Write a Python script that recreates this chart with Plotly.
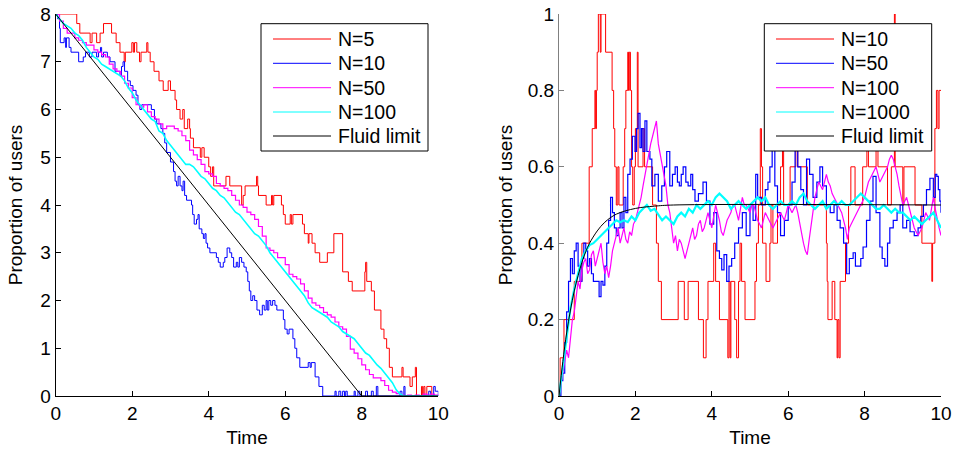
import plotly.graph_objects as go

# ---------------- Left panel data ----------------
left_names = ["N=5", "N=10", "N=50", "N=100", "Fluid limit"]

n5_t = [0, 0.55, 0.63, 0.9, 0.95, 1.07, 1.16, 1.25, 1.46, 1.58, 1.68, 1.79, 1.82, 1.99, 2.03, 2.06, 2.12, 2.19, 2.23, 2.38, 2.41, 2.47, 2.57,
        2.7, 2.81, 2.94, 3.0, 3.12, 3.16, 3.25, 3.32, 3.36, 3.45, 3.5, 3.52, 3.6, 3.78, 3.82, 3.88, 4.0, 4.05, 4.1, 4.13, 4.45,
        4.55, 4.86, 4.9, 4.95, 5.25, 5.28, 5.3, 5.5, 5.64, 5.67, 5.7, 5.9, 5.95, 6.0, 6.13, 6.16, 6.2, 6.45, 6.5, 6.6, 6.62,
        6.7, 6.78, 6.9, 7.1, 7.27, 7.5, 7.65, 7.75, 8.08, 8.1, 8.13, 8.25, 8.33, 8.5, 8.58, 8.65, 8.72, 8.8, 9.05, 9.08, 9.26,
        9.32, 9.4, 9.43, 9.56, 9.59, 9.62, 9.65, 9.7, 9.83, 10]
n5_y = [8, 7.8, 7.6, 7.4, 7.6, 7.4, 7.6, 7.8, 7.6, 7.4, 7.2, 7.0, 7.2, 7.4, 7.2, 7.4, 7.2, 7.0, 7.2, 7.4, 7.2, 7.0, 6.8,
        6.6, 6.4, 6.6, 6.4, 6.2, 6.0, 5.8, 6.0, 5.6, 5.8, 5.6, 5.4, 5.2, 5.0, 5.2, 5.0, 4.8, 4.6, 4.8, 4.4, 4.6,
        4.4, 4.0, 4.2, 4.4, 4.6, 4.4, 4.2, 4.0, 4.2, 4.0, 4.2, 4.0, 3.8, 3.6, 3.8, 3.6, 3.8, 3.6, 3.4, 3.2, 3.4,
        3.2, 3.0, 2.8, 3.0, 3.4, 2.6, 2.4, 2.2, 2.6, 2.8, 2.4, 2.2, 1.8, 1.4, 1.2, 1.0, 0.6, 0.4, 0.6, 0.4, 0.2,
        0.4, 0.6, 0.0, 0.2, 0.0, 0.2, 0.0, 0.2, 0.0, 0.0]

n10_t = [0, 0.05, 0.1, 0.12, 0.22, 0.26, 0.28, 0.35, 0.4, 0.6, 0.72, 0.78, 0.88, 0.95, 1.07, 1.12, 1.17, 1.2, 1.25, 1.35, 1.42,
         1.55, 1.68, 1.72, 1.76, 1.8, 1.88, 1.95, 2.02, 2.1, 2.15, 2.2, 2.25, 2.5, 2.58, 2.64, 2.75, 2.8, 2.85, 2.9, 3.0, 3.08,
         3.12, 3.16, 3.2, 3.25, 3.3, 3.33, 3.37, 3.42, 3.55, 3.58, 3.62, 3.68, 3.72, 3.75, 3.82, 3.86, 3.9, 3.93, 3.97, 4.03,
         4.2, 4.25, 4.3, 4.38, 4.42, 4.48, 4.55, 4.6, 4.65, 4.72, 4.76, 4.8, 4.86, 4.92, 4.98, 5.02, 5.06, 5.1, 5.15, 5.2, 5.26,
         5.33, 5.4, 5.45, 5.5, 5.53, 5.57, 5.62, 5.67, 5.73, 5.78, 5.95, 5.99, 6.05, 6.1, 6.2, 6.25, 6.3, 6.38, 6.6, 6.65, 6.68,
         6.78, 6.88, 6.98, 7.3, 7.33, 7.4, 7.45, 7.5, 7.55, 7.58, 7.62, 7.8, 7.83, 7.9, 7.95, 8.1, 8.15, 8.25, 8.3, 8.38, 8.42,
         9.0, 9.05, 9.1, 9.13, 9.75, 9.8, 9.88, 9.92, 10]
n10_y = [8, 7.9, 7.7, 7.4, 7.5, 7.3, 7.5, 7.3, 7.2, 7.0, 7.1, 7.2, 7.1, 7.2, 7.1, 7.2, 7.3, 7.1, 7.2, 7.1, 7.0,
         6.8, 6.7, 6.9, 7.0, 6.8, 6.6, 6.5, 6.4, 6.3, 6.1, 6.0, 6.1, 6.0, 5.8, 5.7, 5.6, 5.5, 5.3, 5.1, 4.9, 4.7,
         4.5, 4.4, 4.6, 4.4, 4.3, 4.5, 4.2, 4.1, 4.0, 3.8, 3.6, 3.7, 3.8, 3.5, 3.4, 3.3, 3.4, 3.2, 3.1, 3.0,
         2.9, 2.8, 2.7, 2.8, 2.9, 3.1, 3.0, 2.9, 2.7, 2.8, 2.7, 2.9, 2.8, 2.7, 2.6, 2.4, 2.2, 2.0, 2.1, 2.0, 1.8,
         1.7, 1.9, 1.8, 2.0, 1.8, 2.0, 1.9, 2.0, 1.9, 1.8, 1.6, 1.4, 1.3, 1.4, 1.2, 1.0, 0.8, 0.6, 0.7, 0.6, 0.7,
         0.4, 0.2, 0.0, 0.1, 0.0, 0.1, 0.0, 0.1, 0.0, 0.1, 0.0, 0.1, 0.0, 0.1, 0.0, 0.1, 0.0, 0.1, 0.0, 0.2, 0.0,
         0.1, 0.0, 0.2, 0.0, 0.1, 0.0, 0.2, 0.1, 0.0]

grid_t = [round(0.1 * i, 1) for i in range(101)]
fine_t = [round(0.05 * i, 2) for i in range(201)]
n50_y = [8.0, 7.85, 7.7, 7.6, 7.6, 7.5, 7.45, 7.4, 7.35, 7.35, 7.25, 7.2, 7.15, 7.1, 6.95, 6.85, 6.8, 6.7, 6.55, 6.45,
         6.25, 6.1, 6.05, 6.1, 5.95, 5.85, 5.8, 5.7, 5.6, 5.65, 5.65, 5.6, 5.55, 5.45, 5.35, 5.15, 5.05, 4.95, 4.85, 4.7,
         4.65, 4.6, 4.45, 4.4, 4.35, 4.3, 4.2, 4.1, 4.0, 3.95, 3.85, 3.8, 3.7, 3.55, 3.35, 3.1, 3.05, 3.0, 2.9, 2.9,
         2.75, 2.55, 2.5, 2.45, 2.35, 2.2, 2.05, 1.95, 1.9, 1.85, 1.75, 1.7, 1.65, 1.55, 1.45, 1.4, 1.25, 0.98, 0.9, 0.78,
         0.65, 0.55, 0.45, 0.38, 0.38, 0.32, 0.22, 0.12, 0.08, 0.05, 0.02, 0.0, 0.02, 0.0, 0.02, 0.0, 0.04, 0.02, 0.04, 0.02,
         0.0]
n100_y = [8.0, 7.9, 7.8, 7.75, 7.7, 7.6, 7.55, 7.45, 7.3, 7.2, 7.1, 7.05, 6.95, 6.9, 6.85, 6.8, 6.75, 6.7, 6.6, 6.45,
          6.35, 6.2, 6.1, 6.0, 5.9, 5.8, 5.75, 5.55, 5.5, 5.35, 5.25, 5.15, 5.05, 4.95, 4.85, 4.85, 4.8, 4.7, 4.6, 4.55,
          4.45, 4.35, 4.3, 4.2, 4.15, 4.05, 3.95, 3.85, 3.8, 3.7, 3.6, 3.5, 3.4, 3.35, 3.25, 3.15, 3.0, 2.9, 2.8, 2.7,
          2.6, 2.5, 2.4, 2.3, 2.2, 2.1, 1.95, 1.85, 1.8, 1.75, 1.7, 1.65, 1.55, 1.5, 1.45, 1.35, 1.3, 1.25, 1.2, 1.1,
          1.0, 0.9, 0.85, 0.75, 0.65, 0.58, 0.48, 0.4, 0.28, 0.13, 0.04, 0.0, 0.0, 0.0, 0.0, 0.0, 0.0, 0.0, 0.0, 0.0,
          0.0]
fluid_left_t = [0, 8, 10]
fluid_left_y = [8, 0, 0]

# ---------------- Right panel data ----------------
right_names = ["N=10", "N=50", "N=100", "N=1000", "Fluid limit"]

r10_t = [0, 0.03, 0.13, 0.4, 0.6, 0.79, 0.87, 0.94, 0.96, 0.98, 1.0, 1.03, 1.08, 1.1, 1.22, 1.39, 1.43, 1.46, 1.5, 1.54,
         1.57, 1.68, 1.72, 1.75, 1.8, 1.82, 1.84, 1.87, 1.9, 1.93, 1.97, 2.0, 2.05, 2.07, 2.2, 2.24, 2.45, 2.55, 2.6, 2.68,
         3.12, 3.28, 3.38, 3.65, 3.78, 3.85, 3.9, 4.05, 4.1, 4.2, 4.42, 4.45, 4.48, 4.5, 4.6, 4.65, 4.7, 4.74, 4.78, 4.87,
         5.13, 5.17, 5.22, 5.27, 5.3, 5.33, 5.42, 5.52, 5.55, 5.6, 5.72, 5.8, 5.85, 5.88, 6.05, 6.2, 6.25, 6.5, 7.0, 7.02,
         7.04, 7.15, 7.22, 7.28, 7.3, 7.33, 7.36, 7.5, 7.58, 7.64, 7.75, 7.95, 8.06, 8.1, 8.3, 8.35, 8.6, 8.7, 8.78, 8.8,
         9.0, 9.03, 9.32, 9.5, 9.76, 9.78, 9.84, 9.88, 9.92, 9.95, 10]
r10_y = [0, 0.1, 0.2, 0.3, 0.4, 0.6, 0.7, 0.8, 0.7, 0.8, 0.9, 1.0, 0.9, 1.0, 0.9, 0.8, 0.7, 0.6, 0.5, 0.6,
         0.5, 0.6, 0.7, 0.8, 0.9, 0.8, 0.9, 0.8, 0.6, 0.5, 0.6, 0.7, 0.9, 0.6, 0.7, 0.6, 0.5, 0.4, 0.3, 0.2,
         0.3, 0.2, 0.3, 0.2, 0.1, 0.2, 0.3, 0.4, 0.3, 0.2, 0.1, 0.3, 0.1, 0.3, 0.2, 0.1, 0.3, 0.4, 0.3, 0.2,
         0.3, 0.4, 0.5, 0.7, 0.6, 0.4, 0.3, 0.4, 0.5, 0.4, 0.5, 0.6, 0.7, 0.5, 0.6, 0.7, 0.6, 0.5, 0.4, 0.3,
         0.2, 0.3, 0.2, 0.1, 0.2, 0.1, 0.3, 0.4, 0.5, 0.6, 0.5, 0.6, 0.7, 0.6, 0.7, 0.6, 0.5, 0.6, 1.0, 0.6,
         0.5, 0.6, 0.5, 0.4, 0.3, 0.4, 0.7, 0.8, 0.7, 0.8, 0.8]

r50_t = [0, 0.05, 0.1, 0.15, 0.2, 0.25, 0.3, 0.35, 0.4, 0.45, 0.5, 0.55, 0.6, 0.65, 0.7, 0.75, 0.8, 0.85, 0.9, 1.0,
         1.05, 1.1, 1.15, 1.2, 1.25, 1.3, 1.35, 1.4, 1.45, 1.5, 1.55, 1.6, 1.65, 1.7, 1.75, 1.8, 1.86, 1.92, 1.99, 2.03,
         2.07, 2.12, 2.16, 2.2, 2.25, 2.3, 2.38, 2.43, 2.51, 2.6, 2.69, 2.76, 2.82, 2.9, 2.97, 3.04, 3.1, 3.15, 3.2, 3.25,
         3.32, 3.38, 3.45, 3.5, 3.56, 3.65, 3.77, 3.86, 3.95, 4.05, 4.13, 4.2, 4.26, 4.32, 4.39, 4.45, 4.52, 4.6, 4.7, 4.8,
         4.9, 5.0, 5.08, 5.15, 5.2, 5.3, 5.4, 5.47, 5.52, 5.58, 5.65, 5.72, 5.8, 5.9, 6.0, 6.1, 6.18, 6.25, 6.33, 6.4,
         6.48, 6.56, 6.65, 6.75, 6.83, 6.9, 7.0, 7.1, 7.2, 7.28, 7.36, 7.45, 7.53, 7.6, 7.7, 7.76, 7.83, 7.9, 7.96, 8.05,
         8.14, 8.22, 8.3, 8.4, 8.46, 8.53, 8.6, 8.66, 8.75, 8.85, 8.93, 9.0, 9.1, 9.19, 9.3, 9.4, 9.47, 9.54, 9.62, 9.71,
         9.8, 9.85, 9.89, 9.93, 9.97, 10]
r50_y = [0, 0.04, 0.06, 0.14, 0.22, 0.3, 0.36, 0.32, 0.38, 0.4, 0.34, 0.3, 0.36, 0.4, 0.38, 0.34, 0.36, 0.32, 0.3, 0.3,
         0.26, 0.3, 0.29, 0.34, 0.4, 0.46, 0.52, 0.48, 0.44, 0.42, 0.44, 0.48, 0.44, 0.52, 0.48, 0.58, 0.62, 0.68, 0.64, 0.7,
         0.74, 0.65, 0.7, 0.64, 0.72, 0.64, 0.62, 0.55, 0.58, 0.51, 0.55, 0.6, 0.64, 0.55, 0.58, 0.6, 0.56, 0.55, 0.58, 0.6,
         0.56, 0.55, 0.58, 0.54, 0.51, 0.53, 0.56, 0.51, 0.45, 0.48, 0.38, 0.36, 0.33, 0.37, 0.3, 0.34, 0.36, 0.4, 0.44, 0.48,
         0.42, 0.5, 0.46, 0.58, 0.52, 0.5, 0.54, 0.56, 0.6, 0.65, 0.55, 0.48, 0.42, 0.46, 0.5, 0.56, 0.66, 0.6, 0.54, 0.5,
         0.62, 0.58, 0.52, 0.56, 0.6, 0.55, 0.5, 0.48, 0.5, 0.46, 0.44, 0.4, 0.32, 0.36, 0.375, 0.34, 0.34, 0.36, 0.39, 0.46,
         0.51, 0.575, 0.48, 0.39, 0.36, 0.34, 0.4, 0.44, 0.46, 0.48, 0.5, 0.44, 0.46, 0.43, 0.42, 0.44, 0.47, 0.5, 0.54, 0.57,
         0.52, 0.58, 0.575, 0.54, 0.51, 0.48]

r100_y = [0, 0.03, 0.06, 0.1, 0.12, 0.1, 0.16, 0.2, 0.22, 0.26, 0.3, 0.28, 0.33, 0.35, 0.36, 0.32, 0.33, 0.37, 0.38, 0.34,
          0.36, 0.38, 0.4, 0.35, 0.32, 0.34, 0.31, 0.34, 0.38, 0.4, 0.42, 0.44, 0.4, 0.42, 0.44, 0.41, 0.4, 0.43, 0.42, 0.45,
          0.46, 0.48, 0.5, 0.52, 0.55, 0.58, 0.6, 0.63, 0.66, 0.68, 0.7, 0.72, 0.66, 0.63, 0.6, 0.58, 0.55, 0.5, 0.48, 0.44,
          0.4, 0.42, 0.38, 0.41, 0.4, 0.38, 0.36, 0.38, 0.4, 0.42, 0.44, 0.41, 0.42, 0.45, 0.46, 0.43, 0.44, 0.46, 0.48, 0.46,
          0.44, 0.47, 0.5, 0.48, 0.46, 0.43, 0.42, 0.44, 0.46, 0.47, 0.48, 0.5, 0.5, 0.48, 0.46, 0.49, 0.52, 0.5, 0.5, 0.49,
          0.48, 0.5, 0.5, 0.48, 0.46, 0.45, 0.44, 0.46, 0.48, 0.47, 0.46, 0.45, 0.44, 0.45, 0.46, 0.47, 0.48, 0.47, 0.46, 0.48,
          0.5, 0.49, 0.48, 0.49, 0.5, 0.48, 0.45, 0.42, 0.4, 0.38, 0.37, 0.41, 0.45, 0.49, 0.52, 0.54, 0.56, 0.55, 0.54, 0.56,
          0.58, 0.56, 0.55, 0.53, 0.52, 0.51, 0.5, 0.49, 0.48, 0.46, 0.44, 0.41, 0.44, 0.45, 0.46, 0.47, 0.48, 0.49, 0.5, 0.51,
          0.52, 0.54, 0.56, 0.57, 0.58, 0.59, 0.6, 0.58, 0.56, 0.57, 0.58, 0.59, 0.6, 0.62, 0.63, 0.62, 0.6, 0.58, 0.55, 0.52,
          0.5, 0.51, 0.52, 0.5, 0.48, 0.46, 0.44, 0.43, 0.42, 0.43, 0.44, 0.46, 0.48, 0.47, 0.46, 0.49, 0.52, 0.49, 0.46, 0.44,
          0.42]
r1000_y = [0, 0.08, 0.16, 0.23, 0.28, 0.32, 0.36, 0.38, 0.395, 0.4, 0.41, 0.42, 0.43, 0.44, 0.45, 0.46, 0.455, 0.46, 0.455, 0.47,
           0.46, 0.48, 0.49, 0.5, 0.485, 0.49, 0.475, 0.46, 0.47, 0.46, 0.45, 0.47, 0.48, 0.47, 0.49, 0.48, 0.5, 0.49, 0.5, 0.51,
           0.5, 0.52, 0.53, 0.52, 0.51, 0.49, 0.5, 0.51, 0.5, 0.49, 0.5, 0.51, 0.52, 0.51, 0.52, 0.5, 0.49, 0.5, 0.51, 0.5,
           0.5, 0.51, 0.5, 0.52, 0.53, 0.51, 0.5, 0.49, 0.5, 0.51, 0.49, 0.5, 0.51, 0.5, 0.51, 0.5, 0.5, 0.51, 0.52, 0.53,
           0.52, 0.51, 0.5, 0.49, 0.49, 0.5, 0.49, 0.48, 0.49, 0.48, 0.48, 0.47, 0.46, 0.47, 0.46, 0.45, 0.46, 0.47, 0.48, 0.46,
           0.44]
fluid_right_t = [0, 0.1, 0.2, 0.3, 0.4, 0.5, 0.6, 0.7, 0.8, 1.0, 1.2, 1.5, 2.0, 2.5, 3.0, 10]
fluid_right_y = [0, 0.09, 0.165, 0.225, 0.275, 0.315, 0.35, 0.378, 0.40, 0.432, 0.455, 0.476, 0.491, 0.497, 0.5, 0.5]

# ---------------- Styling ----------------
colors = ["#ff0000", "#0000ff", "#ff00ff", "#00ffff", "#000000"]
FONT = "Liberation Sans, Arial, Helvetica, sans-serif"
W, H = 955, 449
MT, MB = 14, 53

fig = go.Figure()
left_series = [(n5_t, n5_y, "hv", 1), (n10_t, n10_y, "hv", 1), (grid_t, n50_y, "hv", 1.2),
               (grid_t, n100_y, "linear", 1.6), (fluid_left_t, fluid_left_y, "linear", 1)]
right_series = [(r10_t, r10_y, "hv", 1), (r50_t, r50_y, "hv", 1.2), (fine_t, r100_y, "linear", 1.2),
                (grid_t, r1000_y, "linear", 2.2), (fluid_right_t, fluid_right_y, "spline", 1)]

for i, (t, y, shp, w) in enumerate(left_series):
    fig.add_trace(go.Scatter(x=t, y=y, mode="lines", name=left_names[i], showlegend=False,
                             line=dict(color=colors[i], width=w, shape=shp), xaxis="x", yaxis="y"))
for i, (t, y, shp, w) in enumerate(right_series):
    fig.add_trace(go.Scatter(x=t, y=y, mode="lines", name=right_names[i], showlegend=False,
                             line=dict(color=colors[i], width=w, shape=shp), xaxis="x2", yaxis="y2"))

def px2x(p):
    return p / W

def px2y(p):
    return (H - MB - p) / (H - MT - MB)

# Manual MATLAB-style legends
def add_legend(box_x0, box_x1, line_x0, line_x1, text_x, names):
    shapes = [dict(type="rect", xref="paper", yref="paper", x0=px2x(box_x0), x1=px2x(box_x1),
                   y0=px2y(151), y1=px2y(23.7), line=dict(color="black", width=1),
                   fillcolor="white", layer="above")]
    annos = []
    ys = [39, 63.3, 87.7, 112, 136]
    for k, nm in enumerate(names):
        shapes.append(dict(type="line", xref="paper", yref="paper", x0=px2x(line_x0), x1=px2x(line_x1),
                           y0=px2y(ys[k]), y1=px2y(ys[k]), line=dict(color=colors[k], width=1), layer="above"))
        annos.append(dict(xref="paper", yref="paper", x=px2x(text_x), y=px2y(ys[k]), text=nm, showarrow=False,
                          xanchor="left", yanchor="middle", font=dict(size=19.5, color="black", family=FONT)))
    return shapes, annos

s1, a1 = add_legend(261, 428, 273, 331, 336, left_names)
s2, a2 = add_legend(764.3, 931.7, 776, 834, 839, right_names)

axis_common = dict(showgrid=False, zeroline=False, showline=True, linecolor="black", linewidth=1,
                   ticks="inside", ticklen=5, tickcolor="black", mirror=False,
                   tickfont=dict(size=19, color="black", family=FONT))

fig.update_layout(
    width=W, height=H,
    margin=dict(l=0, r=0, t=MT, b=MB),
    paper_bgcolor="white", plot_bgcolor="white",
    font=dict(family=FONT, color="black"),
    xaxis=dict(domain=[55.7 / W, 438.3 / W], range=[0, 10], tickvals=[0, 2, 4, 6, 8, 10],
               title=dict(text="Time", font=dict(size=19), standoff=7), anchor="y", **axis_common),
    yaxis=dict(domain=[0, 1], range=[0, 8], tickvals=list(range(9)),
               title=dict(text="Proportion of users", font=dict(size=19), standoff=12), anchor="x", **axis_common),
    xaxis2=dict(domain=[559 / W, 941 / W], range=[0, 10], tickvals=[0, 2, 4, 6, 8, 10],
                title=dict(text="Time", font=dict(size=19), standoff=7), anchor="y2", **axis_common),
    yaxis2=dict(domain=[0, 1], range=[0, 1], tickvals=[0, 0.2, 0.4, 0.6, 0.8, 1],
                ticktext=["0", "0.2", "0.4", "0.6", "0.8", "1"],
                title=dict(text="Proportion of users", font=dict(size=19), standoff=10), anchor="x2", **axis_common),
    shapes=s1 + s2,
    annotations=a1 + a2,
    showlegend=False,
)
fig.update_yaxes(automargin=False)
fig.update_xaxes(automargin=False)
fig.update_layout(yaxis2=dict(linecolor="#808080", tickcolor="#808080"))

fig.write_html("out.html", config={"displayModeBar": False},
               post_script="document.body.style.margin='0';document.body.style.overflow='hidden';")
